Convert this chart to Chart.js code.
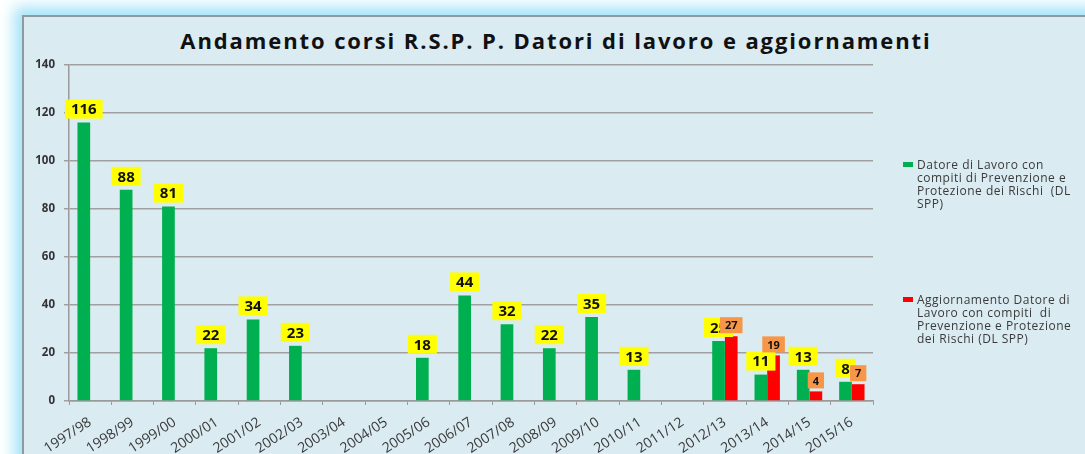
<!DOCTYPE html>
<html>
<head>
<meta charset="utf-8">
<script src="https://cdn.jsdelivr.net/npm/chart.js@4.4.0/dist/chart.umd.min.js"></script>
<style>
  html, body { margin: 0; padding: 0; background: #fff; overflow: hidden; }
  #wrap { position: relative; width: 1085px; height: 454px; overflow: hidden; }
  /* panel with the cyan glow on top / left */
  #panel {
    position: absolute; left: 22px; top: 15px; width: 1100px; height: 460px;
    background: #daebf2;
    border-top: 2px solid #8f9a9e; border-left: 2px solid #8f9a9e;
    box-shadow: -6px -6px 14px 2px #a3e3f6;
  }
  #title {
    position: absolute; left: 0; width: 1112px; top: 25px; text-align: center;
    font: bold 22px "Open Sans", sans-serif; letter-spacing: 1.9px; color: #111;
  }
  #chart { position: absolute; left: 0; top: 0; }
  .leg { position: absolute; left: 903px; font: 12px "Open Sans", sans-serif;
         letter-spacing: 0.5px; color: #3a3a3a; line-height: 13px; }
  .leg span.sw { position: absolute; left: 0; top: 4px; width: 10px; height: 5px; }
  .leg div.tx { margin-left: 14px; }
</style>
</head>
<body>
<div id="wrap">
  <div id="panel"></div>
  <div id="title">Andamento corsi R.S.P. P. Datori di lavoro e aggiornamenti</div>
  <canvas id="chart" width="1085" height="454"></canvas>
  <div class="leg" style="top:158px"><span class="sw" style="background:#00b050"></span>
    <div class="tx">Datore di Lavoro con<br>compiti di Prevenzione e<br>Protezione dei Rischi&nbsp; (DL<br>SPP)</div></div>
  <div class="leg" style="top:293px"><span class="sw" style="background:#ff0000"></span>
    <div class="tx">Aggiornamento Datore di<br>Lavoro con compiti&nbsp; di<br>Prevenzione e Protezione<br>dei Rischi (DL SPP)</div></div>
</div>
<script>
// anni accademici
const years = ["1997/98", "1998/99", "1999/00", "2000/01", "2001/02", "2002/03", "2003/04",
  "2004/05", "2005/06", "2006/07", "2007/08", "2008/09", "2009/10", "2010/11", "2011/12",
  "2012/13", "2013/14", "2014/15", "2015/16"];
// corsi DL SPP
const dlSpp = [116, 88, 81, 22, 34, 23, null, null, 18, 44, 32, 22, 35, 13, null, 25, 11, 13, 8];
// aggiornamenti DL SPP
const aggSpp = [null, null, null, null, null, null, null, null, null, null, null, null, null, null, null, 27, 19, 4, 7];
const yTicks = [0, 20, 40, 60, 80, 100, 120, 140];

// label boxes above the bars (yellow for DL, orange for aggiornamento)
const labelStyles = [
  { font: "bold 15px 'Open Sans', sans-serif", bg: "#ffff00", h: 19, padX: 6, gap: 4 },
  { font: "bold 11px 'Open Sans', sans-serif", bg: "#f79646", h: 16, padX: 5, gap: 3 }
];

const barLabels = {
  id: "barLabels",
  afterDatasetsDraw(chart) {
    const ctx = chart.ctx;
    ctx.save();
    chart.data.datasets.forEach((ds, i) => {
      const meta = chart.getDatasetMeta(i);
      const st = labelStyles[i];
      meta.data.forEach((bar, j) => {
        const v = ds.data[j];
        if (v == null) return;
        ctx.font = st.font;
        const w = ctx.measureText(String(v)).width + st.padX * 2;
        const y = bar.y - st.gap - st.h;
        ctx.fillStyle = st.bg;
        ctx.fillRect(bar.x - w / 2, y, w, st.h);
        ctx.fillStyle = "#111";
        ctx.textAlign = "center";
        ctx.textBaseline = "middle";
        ctx.fillText(String(v), bar.x, y + st.h / 2 + 1);
      });
    });
    ctx.restore();
  }
};

new Chart(document.getElementById("chart"), {
  type: "bar",
  data: {
    labels: years,
    datasets: [
      { label: "Datore di Lavoro con compiti di Prevenzione e Protezione dei Rischi (DL SPP)",
        data: dlSpp, backgroundColor: "#00b050" },
      { label: "Aggiornamento Datore di Lavoro con compiti di Prevenzione e Protezione dei Rischi (DL SPP)",
        data: aggSpp, backgroundColor: "#ff0000" }
    ]
  },
  options: {
    responsive: false,
    animation: false,
    devicePixelRatio: 1,
    categoryPercentage: 0.6,
    barPercentage: 1,
    layout: { padding: { top: 65, right: 212, left: 0, bottom: 0 } },
    plugins: { legend: { display: false }, title: { display: false }, tooltip: { enabled: false } },
    scales: {
      x: {
        grid: { display: true, drawOnChartArea: false, drawTicks: true, tickLength: 4, color: "#9a9a9a", offset: true },
        border: { color: "#9a9a9a", width: 1.5 },
        ticks: { minRotation: 33, maxRotation: 33, autoSkip: false, padding: 9,
                 color: "#3a3a3a", font: { family: "'Open Sans', sans-serif", size: 14 } },
        afterFit(s) { s.height = 53; }
      },
      y: {
        min: 0, max: 140,
        afterBuildTicks(s) { s.ticks = yTicks.map(v => ({ value: v })); },
        grid: { color: "#a0a0a0", lineWidth: 1.5, tickLength: 5 },
        border: { color: "#9a9a9a", width: 1.5 },
        ticks: { padding: 9, color: "#333", font: { family: "'Open Sans', sans-serif", size: 11.5, weight: "bold" } },
        afterFit(s) { s.width = 69; }
      }
    }
  },
  plugins: [barLabels]
});
</script>
</body>
</html>
